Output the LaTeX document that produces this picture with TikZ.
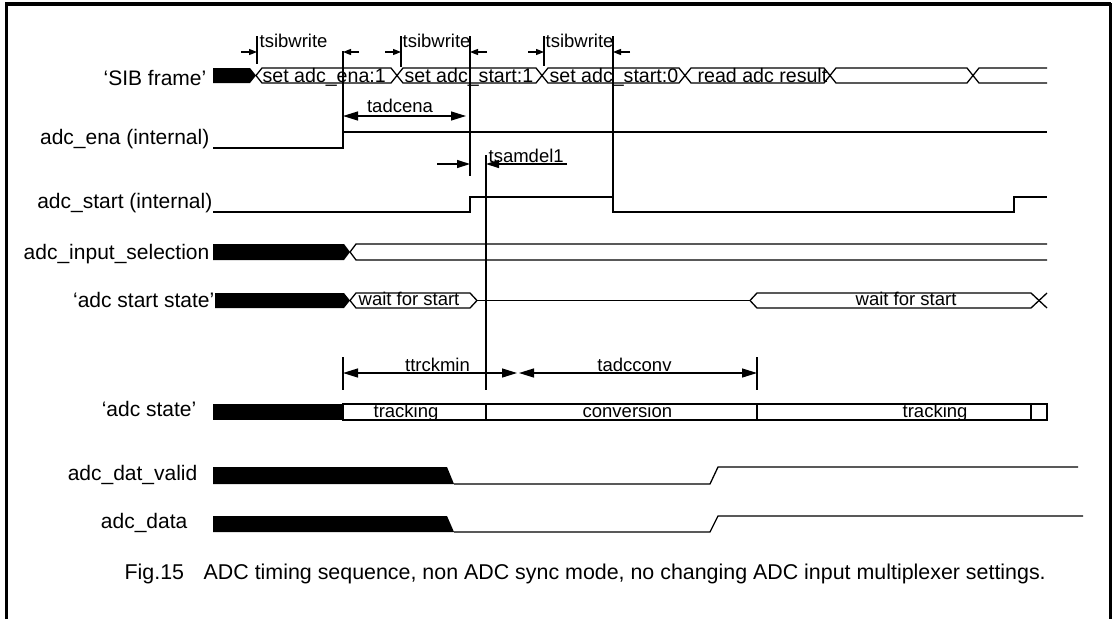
\documentclass[tikz,border=0pt]{standalone}
\usepackage{fontspec}
\setmainfont{Liberation Sans}
\usetikzlibrary{arrows.meta}
\begin{document}
\begin{tikzpicture}[x=1pt,y=-1pt,line width=1.3pt,line join=miter,
  lbl/.style={anchor=base east,inner sep=0pt,font=\fontsize{21}{25}\selectfont},
  bustxt/.style={anchor=base west,inner sep=0pt,font=\fontsize{19.6}{24}\selectfont},
  ann/.style={inner sep=0pt,font=\fontsize{18.5}{22}\selectfont},
  captxt/.style={anchor=base west,inner sep=0pt,font=\fontsize{21.4}{26}\selectfont},
  smallarr/.style={-{Triangle[length=8pt,width=6pt]}},
  midarr/.style={-{Triangle[length=13pt,width=8pt]}},
  bigarr/.style={{Triangle[length=15pt,width=9pt]}-{Triangle[length=15pt,width=9pt]}}]
\useasboundingbox (0,0) rectangle (1113,619);
% frame
\draw[line width=3pt] (6,619) -- (6,4) -- (1110,4) -- (1110,619);
\draw[line width=4pt] (5,4) -- (1111,4);

% SIB frame bus
\fill (213,68) -- (250,68) -- (256,75.5) -- (250,83) -- (213,83) -- cycle;
\draw (256,75.5) -- (262,68) -- (391,68) -- (397,75.5) -- (391,83) -- (262,83) -- cycle;
\draw (397,75.5) -- (403,68) -- (536,68) -- (542,75.5) -- (536,83) -- (403,83) -- cycle;
\draw (542,75.5) -- (548,68) -- (679,68) -- (685,75.5) -- (679,83) -- (548,83) -- cycle;
\draw (685,75.5) -- (691,68) -- (824,68) -- (830,75.5) -- (824,83) -- (691,83) -- cycle;
\draw (830,75.5) -- (836,68) -- (967,68) -- (973,75.5) -- (967,83) -- (836,83) -- cycle;
\draw (1047,68) -- (979,68) -- (973,75.5) -- (979,83) -- (1047,83);
\node[bustxt] (s1) at (262,82) {set adc\_ena:1};
\node[bustxt] (s2) at (404,82) {set adc\_start:1};
\node[bustxt] (s3) at (549,82) {set adc\_start:0};
\node[bustxt] (s4) at (697,82) {read adc result};

% tsibwrite marks
\draw (257,36) -- (257,64);
\draw (401,36) -- (401,67);
\draw (544,36) -- (544,66);
\draw (343,51) -- (343,132);
\draw (470,36) -- (470,176);
\draw (613,36) -- (613,197);
\draw (486,155) -- (486,390);
\node[ann,anchor=base west] (tw1) at (259,47) {tsibwrite};
\node[ann,anchor=base west] (tw2) at (402,47) {tsibwrite};
\node[ann,anchor=base west] (tw3) at (545,47) {tsibwrite};
\coordinate (a1s) at (241,52); \coordinate (a1e) at (257,52);
\coordinate (a2s) at (359,52); \coordinate (a2e) at (343,52);
\coordinate (a3s) at (385,52); \coordinate (a3e) at (401,52);
\coordinate (a4s) at (487,52); \coordinate (a4e) at (470,52);
\coordinate (a5s) at (528,52); \coordinate (a5e) at (544,52);
\coordinate (a6s) at (630,52); \coordinate (a6e) at (613,52);
\draw[smallarr] (a1s) -- (a1e);
\draw[smallarr] (a2s) -- (a2e);
\draw[smallarr] (a3s) -- (a3e);
\draw[smallarr] (a4s) -- (a4e);
\draw[smallarr] (a5s) -- (a5e);
\draw[smallarr] (a6s) -- (a6e);

% tadcena
\coordinate (ta1) at (343,116); \coordinate (ta2) at (466,116);
\draw[bigarr] (ta1) -- (ta2);
\node[ann,anchor=base] (tadcena) at (400,112) {tadcena};

% adc_ena
\draw (213,148) -- (343,148) -- (343,132) -- (1047,132);

% tsamdel1
\coordinate (sd1) at (437,164); \coordinate (sd2) at (470,164);
\coordinate (sd3) at (567,164); \coordinate (sd4) at (486,164);
\draw[midarr] (sd1) -- (sd2);
\draw[midarr] (sd3) -- (sd4);
\node[ann,anchor=base west] (tsamdel) at (488,162) {tsamdel1};

% adc_start
\draw (213,212) -- (470,212) -- (470,197) -- (613,197) -- (613,212) -- (1014,212) -- (1014,197) -- (1047,197);

% adc_input_selection
\fill (213,244) -- (344,244) -- (350,252) -- (344,260) -- (213,260) -- cycle;
\draw (1047,244) -- (356,244) -- (350,252) -- (356,260) -- (1047,260);

% adc start state
\fill (215,293) -- (344,293) -- (350,300.5) -- (344,308) -- (215,308) -- cycle;
\draw (350,300.5) -- (356,293) -- (470,293) -- (477,300.5) -- (470,308) -- (356,308) -- cycle;
\draw (477,300.5) -- (750,300.5);
\draw (750,300.5) -- (757,293) -- (1031,293) -- (1047,308);
\draw (750,300.5) -- (757,308) -- (1031,308) -- (1047,293);
\node[ann,anchor=base west] (wfs1) at (358,305) {wait for start};
\node[ann,anchor=base west] (wfs2) at (855,305) {wait for start};

% ttrckmin / tadcconv
\draw (343,357) -- (343,390);
\draw (757,357) -- (757,390);
\coordinate (tr1) at (343,373); \coordinate (tr2) at (517,373);
\coordinate (tc1) at (519,373); \coordinate (tc2) at (757,373);
\draw[bigarr] (tr1) -- (tr2);
\draw[bigarr] (tc1) -- (tc2);
\node[ann,anchor=base] (ttrck) at (437.5,371) {ttrckmin};
\node[ann,anchor=base] (tconv) at (634.5,371) {tadcconv};

% adc state
\fill (213,404) rectangle (343,420);
\draw (343,404) rectangle (1047,420);
\draw (486,404) -- (486,420);
\draw (757,404) -- (757,420);
\draw (1031,404) -- (1031,420);
\node[ann,anchor=base west] (trk1) at (373,417) {tracking};
\node[ann,anchor=base west] (conv) at (582,417) {conversion};
\node[ann,anchor=base west] (trk2) at (902,417) {tracking};

% adc_dat_valid
\fill (213,467) -- (447,467) -- (454,484) -- (213,484) -- cycle;
\draw (454,484) -- (710,484) -- (718,467) -- (1078,467);
% adc_data
\fill (213,516) -- (447,516) -- (454,532) -- (213,532) -- cycle;
\draw (454,532) -- (710,532) -- (718,516) -- (1083,516);

% labels
\node[lbl] (lsib) at (207,85) {‘SIB frame’};
\node[lbl] (lena) at (210,144) {adc\_ena (internal)};
\node[lbl] (lstart) at (213,208) {adc\_start (internal)};
\node[lbl] (lsel) at (210,259) {adc\_input\_selection};
\node[lbl] (lss) at (215,307) {‘adc start state’};
\node[lbl] (lst) at (197,416) {‘adc state’};
\node[lbl] (ldv) at (198,480) {adc\_dat\_valid};
\node[lbl] (ldat) at (188,528) {adc\_data};

% caption
\node[captxt] (fig) at (124,579) {Fig.15};
\node[captxt] (capt) at (203,579) {ADC timing sequence, non ADC sync mode, no changing ADC input multiplexer settings.};
\end{tikzpicture}
\end{document}
